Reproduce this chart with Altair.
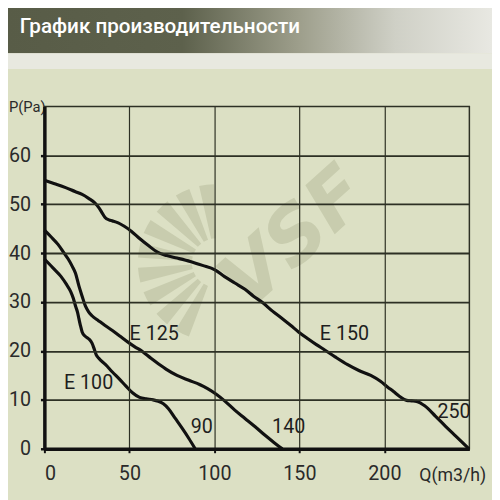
import altair as alt
import pandas as pd

# ---- data ----
q100 = [0, 5, 9.6, 13, 15.4, 17, 18.3, 19.5, 20.3, 21.2, 22.2, 24, 26, 28, 29.5, 30.5, 32, 36, 40, 44, 48, 52, 56, 60, 64, 67, 70, 73, 77, 81, 85, 88.7]
p100 = [38.8, 37, 35.3, 33.6, 32.2, 30.8, 29.2, 27.9, 26.6, 25.2, 23.9, 23, 22.5, 21.6, 20.2, 19.2, 18.5, 17.2, 15.7, 14.3, 12.8, 11.4, 10.5, 10.2, 10, 9.7, 9.2, 8.2, 6.2, 4.2, 2.1, 0]

q125 = [0, 4, 8, 11.6, 14, 16.4, 18.3, 20.3, 22.2, 24.1, 26, 28, 31.8, 35.7, 40, 45, 50, 53, 58, 62.7, 67, 72, 78, 85, 91.6, 96, 101.3, 106, 112, 118, 124, 130, 135, 140]
p125 = [44.7, 43.3, 41.8, 40, 38.8, 37.3, 35.9, 33.3, 31.2, 29.2, 28, 27.2, 26.2, 25.2, 24.2, 22.9, 21.6, 20.9, 19.8, 18.5, 17.4, 16.2, 15, 14, 13.1, 12.3, 11.1, 9.8, 7.9, 6.2, 4.5, 2.7, 1.3, 0]

q150 = [0, 6, 12.5, 18, 22.2, 26, 29.9, 32, 34, 35.7, 38, 40, 43.4, 47, 51.1, 56, 61, 66.5, 72, 78, 85.8, 93, 100.3, 106, 112, 118, 123, 128.3, 134, 140, 145, 149.5, 155, 160, 164.9, 171, 178.4, 185, 192, 197.7, 202, 205.4, 209, 213.1, 216, 218.9, 221.5, 223.7, 230, 236, 242, 249.8]
p150 = [54.9, 54.2, 53.4, 52.6, 52, 51.2, 50.2, 49.3, 48.2, 47.3, 46.8, 46.6, 46.2, 45.5, 44.5, 43, 41.6, 40.2, 39.5, 39, 38.3, 37.5, 36.6, 35.2, 33.9, 32.6, 31.2, 29.9, 28.2, 26.6, 25.2, 23.9, 22.5, 21.3, 20.2, 18.8, 17.2, 16, 15, 13.8, 12.6, 11.7, 10.7, 9.9, 9.8, 9.7, 9.3, 8.8, 6.7, 4.6, 2.6, 0]

label_text = ["E 100", "90", "E 125", "140", "E 150", "250"]
label_q = [26, 92.6, 64.6, 143.7, 176.5, 241]
label_p = [13.5, 4.4, 23.5, 4.4, 23.5, 7.4]

x_ticks = [0, 50, 100, 150, 200]
y_ticks = [0, 10, 20, 30, 40, 50, 60]

title_text = "График  производительности"
FONT = "Roboto, Liberation Sans, sans-serif"
BG = "#dce0c4"
WM = "#c8ccae"

rows = []
for name, qs, ps in [("E100", q100, p100), ("E125", q125, p125), ("E150", q150, p150)]:
    for q, p in zip(qs, ps):
        rows.append({"series": name, "Q": q, "P": p})
curves = pd.DataFrame(rows)
labels = pd.DataFrame({"t": label_text, "Q": label_q, "P": label_p})

xs = alt.Scale(domain=[0, 250], nice=False, zero=False)
ys = alt.Scale(domain=[0, 70], nice=False, zero=False)

one = pd.DataFrame({"k": [0]})

header = alt.Chart(one).mark_rect(
    color=alt.LinearGradient(
        gradient="linear", x1=0, x2=1, y1=0, y2=0,
        stops=[alt.GradientStop(color="#585c47", offset=0),
               alt.GradientStop(color="#5d614c", offset=0.36),
               alt.GradientStop(color="#9d9e8b", offset=0.6),
               alt.GradientStop(color="#cfd0c6", offset=0.8),
               alt.GradientStop(color="#e8e8e2", offset=1)]),
).encode(x=alt.value(-37), x2=alt.value(455), y=alt.value(-104), y2=alt.value(-54))

band = alt.Chart(one).mark_rect(color="#e8e9e0").encode(
    x=alt.value(-37), x2=alt.value(455), y=alt.value(-54), y2=alt.value(-38))

title = alt.Chart(one).mark_text(
    text=title_text, font=FONT, fontSize=21, fontWeight=500, color="white",
    align="left", baseline="middle",
).encode(x=alt.value(-25), y=alt.value(-81))

# watermark fan blades
blade_start = [3.50, 3.82, 4.14, 4.46, 4.78, 5.10, 5.42, 5.74, 6.06]
fan = pd.DataFrame({"t0": blade_start, "t1": [b + 0.19 for b in blade_start]})
fan_chart = alt.Chart(fan).mark_arc(color=WM).encode(
    x=alt.value(175), y=alt.value(159),
    radius=alt.value(80), radius2=alt.value(25),
    theta=alt.Theta("t0:Q", scale=None), theta2="t1:Q")

vsf = alt.Chart(one).mark_text(
    text="VSF", font="DejaVu Sans", fontSize=78, fontWeight="bold", fontStyle="italic",
    color=WM, angle=318, align="center", baseline="middle",
).encode(x=alt.value(255), y=alt.value(135))

lines = alt.Chart(curves).mark_line(color="#111111", strokeWidth=3.2, interpolate="monotone").encode(
    x=alt.X("Q:Q", scale=xs, axis=alt.Axis(
        values=x_ticks, title=None, grid=True, gridColor="#2d3024", gridWidth=1.2,
        domainColor="#111", domainWidth=3.5, tickColor="#111", tickWidth=2, tickSize=4,
        labelFont=FONT, labelFontSize=20, labelColor="#2a2a2a", labelPadding=11, zindex=1)),
    y=alt.Y("P:Q", scale=ys, axis=alt.Axis(
        values=y_ticks, title=None, grid=True, gridColor="#2d3024", gridWidth=1.8,
        domainColor="#111", domainWidth=3.5, tickColor="#111", tickWidth=2.5, tickSize=4,
        labelFont=FONT, labelFontSize=20, labelColor="#2a2a2a", labelPadding=10, zindex=1)),
    detail="series:N",
)

curve_labels = alt.Chart(labels).mark_text(
    font=FONT, fontSize=20, color="#1e1e1e", align="center", baseline="middle"
).encode(x=alt.X("Q:Q", scale=xs), y=alt.Y("P:Q", scale=ys), text="t:N")

p_label = alt.Chart(one).mark_text(
    text="P(Pa)", font=FONT, fontSize=15, color="#2a2a2a", align="left", baseline="middle"
).encode(x=alt.value(-36), y=alt.value(1))

q_label = alt.Chart(one).mark_text(
    text="Q(m3/h)", font=FONT, fontSize=18, color="#2a2a2a", align="center", baseline="middle"
).encode(x=alt.value(415), y=alt.value(376))

chart = alt.layer(
    header, band, title, fan_chart, vsf, lines, curve_labels, p_label, q_label
).properties(
    width=432, height=348,
    autosize=alt.AutoSizeParams(type="none"),
    padding={"left": 37, "top": 96, "right": 23, "bottom": 48},
    background=BG,
).configure_view(stroke="#2d3024", strokeWidth=1.5)

chart.save("out.html", embed_options={"renderer": "svg", "actions": False})
